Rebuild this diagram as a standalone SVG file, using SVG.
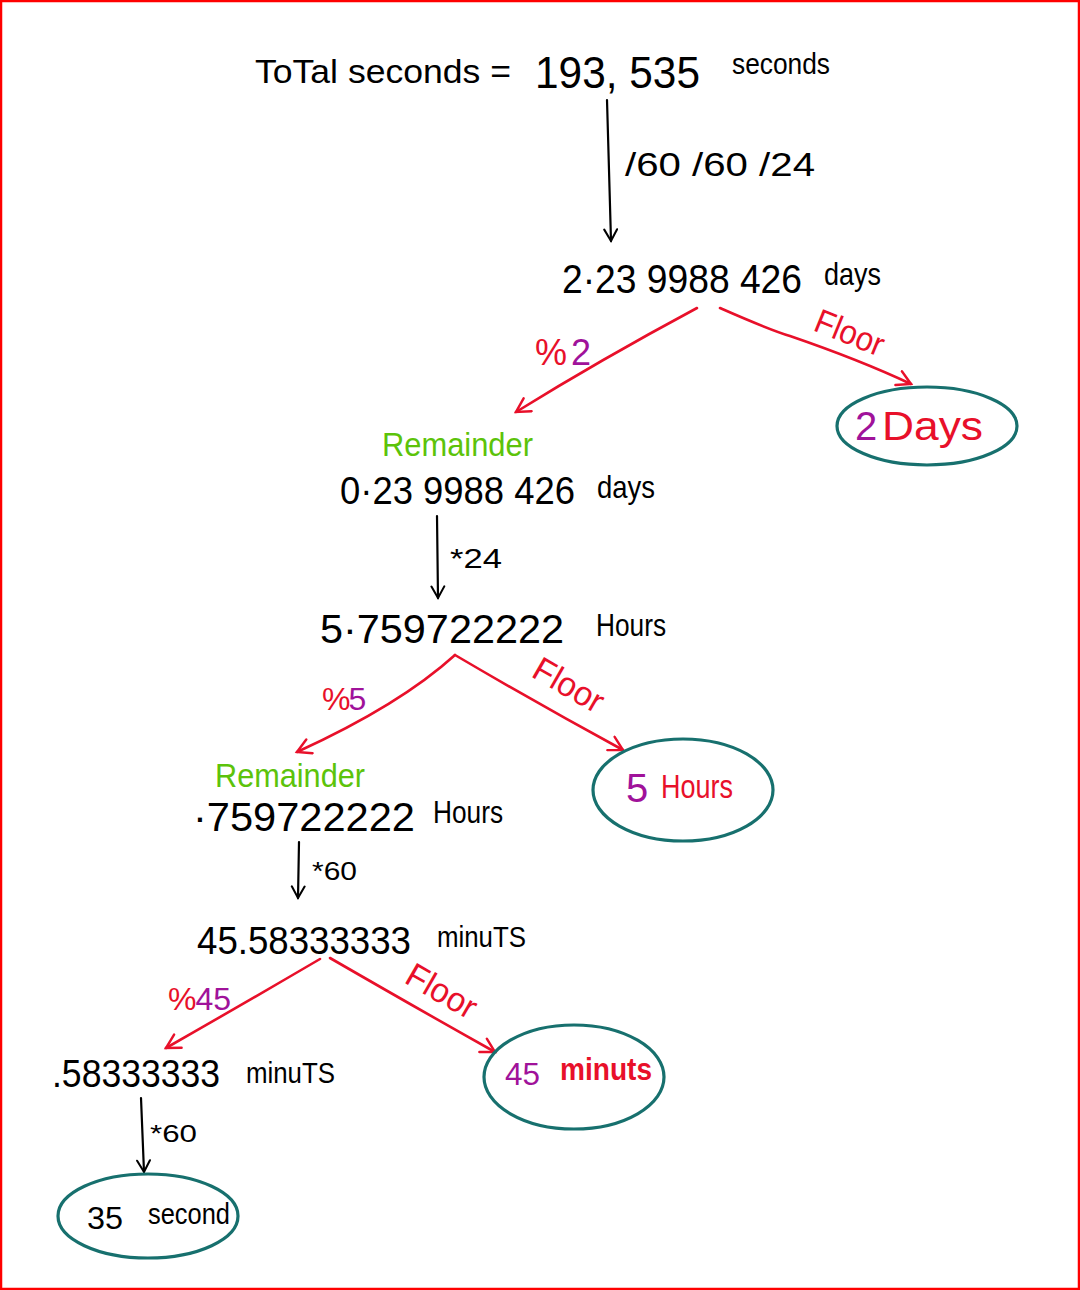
<svg xmlns="http://www.w3.org/2000/svg" width="1080" height="1290" viewBox="0 0 1080 1290">
<style>
.t{font-family:"Liberation Sans","DejaVu Sans",sans-serif;fill:#000}
.r{fill:#e8102a}
.p{fill:#a0129a}
.g{fill:#5cc30a}
.ln{fill:none;stroke:#000;stroke-width:2.2;stroke-linecap:round}
.rl{fill:none;stroke:#e8102a;stroke-width:2.6;stroke-linecap:round}
.ov{fill:none;stroke:#17706e;stroke-width:3.2}
</style>
<defs>
<marker id="ab" viewBox="0 0 12 12" refX="10" refY="6" markerWidth="7" markerHeight="7" orient="auto" markerUnits="strokeWidth">
<path d="M1,1 L10,6 L1,11" fill="none" stroke="#000" stroke-width="1.6" stroke-linecap="round"/>
</marker>
<marker id="ar" viewBox="0 0 12 12" refX="10" refY="6" markerWidth="7" markerHeight="7" orient="auto" markerUnits="strokeWidth">
<path d="M1,1 L10,6 L1,11" fill="none" stroke="#e8102a" stroke-width="1.6" stroke-linecap="round"/>
</marker>
</defs>
<rect x="1" y="1" width="1078" height="1288" fill="#fff" stroke="#ff0000" stroke-width="2.5"/>

<g id="connectors">
<path class="ln" d="M607,100 L609,170 L611,241" marker-end="url(#ab)"/>
<text class="t" x="625" y="176" font-size="34" textLength="190" lengthAdjust="spacingAndGlyphs">/60 /60 /24</text>
<path class="rl" d="M697,308 Q600,360 516,412" marker-end="url(#ar)"/>
<text class="t r" x="535" y="365" font-size="36"><tspan>%</tspan><tspan class="p" dx="4">2</tspan></text>
<path class="rl" d="M720,308 Q770,330 790,336 Q860,360 911,384" marker-end="url(#ar)"/>
<text class="t r" font-size="34" transform="translate(812,330) rotate(22)" textLength="72" lengthAdjust="spacingAndGlyphs">Floor</text>
<path class="ln" d="M437,516 L438,598" marker-end="url(#ab)"/>
<text class="t" x="450" y="568" font-size="28" textLength="52" lengthAdjust="spacingAndGlyphs">*24</text>
<path class="rl" d="M455,655 Q400,705 297,752" marker-end="url(#ar)"/>
<text class="t r" x="322" y="710" font-size="32"><tspan>%</tspan><tspan class="p" dx="-2">5</tspan></text>
<path class="rl" d="M455,655 Q540,705 623,750" marker-end="url(#ar)"/>
<text class="t r" font-size="34" transform="translate(530,676) rotate(30)" textLength="76" lengthAdjust="spacingAndGlyphs">Floor</text>
<path class="ln" d="M299,842 L298,898" marker-end="url(#ab)"/>
<text class="t" x="312" y="880" font-size="26" textLength="45" lengthAdjust="spacingAndGlyphs">*60</text>
<path class="rl" d="M320,959 Q250,1000 166,1048" marker-end="url(#ar)"/>
<text class="t r" x="168" y="1010" font-size="32"><tspan>%</tspan><tspan class="p" dx="-1">45</tspan></text>
<path class="rl" d="M330,958 Q420,1010 495,1052" marker-end="url(#ar)"/>
<text class="t r" font-size="34" transform="translate(403,982) rotate(30)" textLength="76" lengthAdjust="spacingAndGlyphs">Floor</text>
<path class="ln" d="M141,1098 L144,1172" marker-end="url(#ab)"/>
<text class="t" x="150" y="1142" font-size="24" textLength="47" lengthAdjust="spacingAndGlyphs">*60</text>
</g>

<g id="total">
<text class="t" x="255" y="83" font-size="34" textLength="256" lengthAdjust="spacingAndGlyphs">ToTal seconds =</text>
<text class="t" x="535" y="88" font-size="44" textLength="165" lengthAdjust="spacingAndGlyphs">193, 535</text>
<text class="t" x="732" y="74" font-size="30" textLength="98" lengthAdjust="spacingAndGlyphs">seconds</text>
</g>

<g id="days-value">
<text class="t" x="562" y="293" font-size="40" textLength="240" lengthAdjust="spacingAndGlyphs">2·23 9988 426</text>
<text class="t" x="824" y="285" font-size="32" textLength="57" lengthAdjust="spacingAndGlyphs">days</text>
</g>

<g id="days-result">
<ellipse class="ov" cx="927" cy="426" rx="90" ry="39"/>
<text class="t p" x="855" y="440" font-size="40">2</text>
<text class="t r" x="882" y="440" font-size="40" textLength="101" lengthAdjust="spacingAndGlyphs">Days</text>
</g>

<g id="remainder-days">
<text class="t g" x="382" y="456" font-size="34" textLength="151" lengthAdjust="spacingAndGlyphs">Remainder</text>
<text class="t" x="340" y="504" font-size="38" textLength="235" lengthAdjust="spacingAndGlyphs">0·23 9988 426</text>
<text class="t" x="597" y="498" font-size="32" textLength="58" lengthAdjust="spacingAndGlyphs">days</text>
</g>

<g id="hours-value">
<text class="t" x="320" y="643" font-size="40" textLength="244" lengthAdjust="spacingAndGlyphs">5·759722222</text>
<text class="t" x="596" y="636" font-size="32" textLength="70" lengthAdjust="spacingAndGlyphs">Hours</text>
</g>

<g id="hours-result">
<ellipse class="ov" cx="683" cy="790" rx="90" ry="51"/>
<text class="t p" x="626" y="802" font-size="40">5</text>
<text class="t r" x="661" y="798" font-size="34" textLength="72" lengthAdjust="spacingAndGlyphs">Hours</text>
</g>

<g id="remainder-hours">
<text class="t g" x="215" y="787" font-size="34" textLength="150" lengthAdjust="spacingAndGlyphs">Remainder</text>
<text class="t" x="193" y="831" font-size="40" textLength="222" lengthAdjust="spacingAndGlyphs">·759722222</text>
<text class="t" x="433" y="823" font-size="32" textLength="70" lengthAdjust="spacingAndGlyphs">Hours</text>
</g>

<g id="minutes-value">
<text class="t" x="197" y="954" font-size="38" textLength="214" lengthAdjust="spacingAndGlyphs">45.58333333</text>
<text class="t" x="437" y="947" font-size="30" textLength="89" lengthAdjust="spacingAndGlyphs">minuTS</text>
</g>

<g id="minutes-result">
<ellipse class="ov" cx="574" cy="1077" rx="90" ry="52"/>
<text class="t p" x="505" y="1085" font-size="32" textLength="35" lengthAdjust="spacingAndGlyphs">45</text>
<text class="t r" x="560" y="1080" font-size="32" textLength="92" lengthAdjust="spacingAndGlyphs" font-weight="bold">minuts</text>
</g>

<g id="minutes-remainder">
<text class="t" x="52" y="1087" font-size="38" textLength="168" lengthAdjust="spacingAndGlyphs">.58333333</text>
<text class="t" x="246" y="1083" font-size="30" textLength="89" lengthAdjust="spacingAndGlyphs">minuTS</text>
</g>

<g id="seconds-result">
<ellipse class="ov" cx="148" cy="1216" rx="90" ry="42"/>
<text class="t" x="87" y="1229" font-size="32" textLength="36" lengthAdjust="spacingAndGlyphs">35</text>
<text class="t" x="148" y="1224" font-size="30" textLength="82" lengthAdjust="spacingAndGlyphs">second</text>
</g>
</svg>
